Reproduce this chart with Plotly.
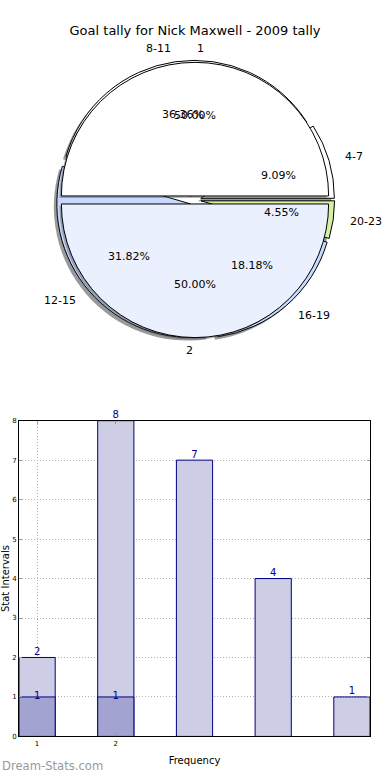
import math
import plotly.graph_objects as go

# ---------------- data ----------------
title = "Goal tally for Nick Maxwell - 2009 tally"
outer_labels = ["4-7", "8-11", "12-15", "16-19", "20-23"]
outer_values = [2, 8, 7, 4, 1]
outer_colors = ["#ffffff", "#ffffff", "#c6d9fd", "#c6d9fd", "#d4f0a0"]
inner_labels = ["1", "2"]
inner_values = [1, 1]
inner_colors = ["#ffffff", "#eaf0fd"]

bar_back = [2, 8, 7, 4, 1]
bar_front = [1, 1]
tick_labels = ["1", "2"]

W, H = 390, 780
CX, CY, R = 195, 198, 135
OUT_PULL, IN_PULL = 0.045, 0.03
FONT = "DejaVu Sans"


def dom(cx, cy, half):
    return dict(x=[(cx - half) / W, (cx + half) / W],
                y=[1 - (cy + half) / H, 1 - (cy - half) / H])


def pp(dx, dy):
    # pixel offset from pie centre -> paper coords
    return (CX + dx) / W, 1 - (CY - dy) / H


def start_rot(values):
    # plotly counterclockwise pies end the first slice at `rotation`;
    # shift so the first slice starts at 3 o'clock like matplotlib
    return 90 - 360.0 * values[0] / sum(values)


fig = go.Figure()

common = dict(sort=False, direction="counterclockwise",
              textinfo="none", hoverinfo="label+percent", showlegend=False)

# outer shadow
fig.add_trace(go.Pie(values=outer_values, labels=outer_labels, rotation=start_rot(outer_values),
                     marker=dict(colors=["rgba(70,70,70,0.55)"] * 5, line=dict(width=0)),
                     pull=[OUT_PULL] * 5, domain=dom(CX - 3, CY + 3, R * (1 + OUT_PULL)),
                     **common))
# outer pie
fig.add_trace(go.Pie(values=outer_values, labels=outer_labels, rotation=start_rot(outer_values),
                     marker=dict(colors=outer_colors, line=dict(color="black", width=1)),
                     pull=[OUT_PULL] * 5, domain=dom(CX, CY, R * (1 + OUT_PULL)),
                     **common))
# inner shadow
fig.add_trace(go.Pie(values=inner_values, labels=inner_labels, rotation=start_rot(inner_values),
                     marker=dict(colors=["rgba(70,70,70,0.4)"] * 2, line=dict(width=0)),
                     pull=[IN_PULL] * 2, domain=dom(CX - 2, CY + 2, R * (1 + IN_PULL)),
                     **common))
# inner pie
fig.add_trace(go.Pie(values=inner_values, labels=inner_labels, rotation=start_rot(inner_values),
                     marker=dict(colors=inner_colors, line=dict(color="black", width=1)),
                     pull=[IN_PULL] * 2, domain=dom(CX, CY, R * (1 + IN_PULL)),
                     **common))

annotations = []


def pie_texts(labels, values, pull):
    tot = sum(values)
    cum = 0.0
    for lab, v in zip(labels, values):
        mid = (cum + v / 2) / tot * 2 * math.pi
        cum += v
        c, s = math.cos(mid), math.sin(mid)
        # percentage (centred, 0.6 r)
        x, y = pp((0.6 + pull) * R * c, (0.6 + pull) * R * s)
        annotations.append(dict(x=x, y=y, xref="paper", yref="paper",
                                text=f"{100 * v / tot:.2f}%", showarrow=False,
                                xanchor="center", yanchor="middle",
                                font=dict(family=FONT, size=11, color="black")))
        # label (1.1 r)
        x, y = pp((1.1 + pull) * R * c, (1.1 + pull) * R * s)
        annotations.append(dict(x=x, y=y, xref="paper", yref="paper",
                                text=lab, showarrow=False,
                                xanchor="left" if c > 0 else "right", yanchor="middle",
                                font=dict(family=FONT, size=11, color="black")))


pie_texts(outer_labels, outer_values, OUT_PULL)
pie_texts(inner_labels, inner_values, IN_PULL)

# ---------------- bars ----------------
xs_back = list(range(len(bar_back)))
xs_front = list(range(len(bar_front)))
BW = 0.46
fig.add_trace(go.Bar(x=xs_back, y=bar_back, width=BW, marker=dict(color="#cdcde6",
                     line=dict(color="#000080", width=1)), showlegend=False,
                     xaxis="x", yaxis="y"))
fig.add_trace(go.Bar(x=xs_front, y=bar_front, width=BW, marker=dict(color="#a3a3d1",
                     line=dict(color="#000080", width=1)), showlegend=False,
                     xaxis="x", yaxis="y"))
fig.add_trace(go.Scatter(x=xs_back, y=bar_back, mode="text", text=[str(v) for v in bar_back],
                         textposition="top center", cliponaxis=False, showlegend=False,
                         textfont=dict(family=FONT, size=10, color="#00008b"),
                         xaxis="x", yaxis="y", hoverinfo="skip"))
fig.add_trace(go.Scatter(x=xs_front, y=bar_front, mode="text", text=[str(v) for v in bar_front],
                         textposition="middle center", cliponaxis=False, showlegend=False,
                         textfont=dict(family=FONT, size=10, color="#00008b"),
                         xaxis="x", yaxis="y", hoverinfo="skip"))

annotations.append(dict(x=0, y=1 - 770 / H, xref="paper", yref="paper", text="Dream-Stats.com",
                        showarrow=False, xanchor="left", yanchor="middle",
                        font=dict(family=FONT, size=11.6, color="#999999")))

axis_common = dict(showline=True, linecolor="black", linewidth=1, mirror="ticks",
                   ticks="inside", ticklen=3, tickcolor="#999", showgrid=True,
                   gridcolor="#b0b0b0", griddash="1px,2px", gridwidth=1, zeroline=False,
                   layer="above traces", tickfont=dict(family=FONT, size=7, color="black"))

fig.update_layout(
    width=W, height=H, margin=dict(l=0, r=0, t=0, b=0),
    paper_bgcolor="white", plot_bgcolor="white",
    title=dict(text=title, x=0.5, xanchor="center", y=1 - 30 / H, yanchor="middle",
               font=dict(family=FONT, size=13, color="black")),
    barmode="overlay",
    xaxis=dict(domain=[19 / W, 370 / W], range=[-BW / 2, len(bar_back) - 1 + BW / 2],
               tickvals=xs_front, ticktext=tick_labels,
               title=dict(text="Frequency", standoff=10, font=dict(family=FONT, size=10, color="black")),
               **axis_common),
    yaxis=dict(domain=[1 - 740 / H, 1 - 421 / H], range=[0, 8], dtick=1,
               title=dict(text="Stat Intervals", standoff=3, font=dict(family=FONT, size=10, color="black")),
               **axis_common),
    annotations=annotations,
    font=dict(family=FONT),
)

fig.write_html("out.html", config={"displayModeBar": False},
               post_script="document.body.style.margin='0';document.body.style.overflow='hidden';")
